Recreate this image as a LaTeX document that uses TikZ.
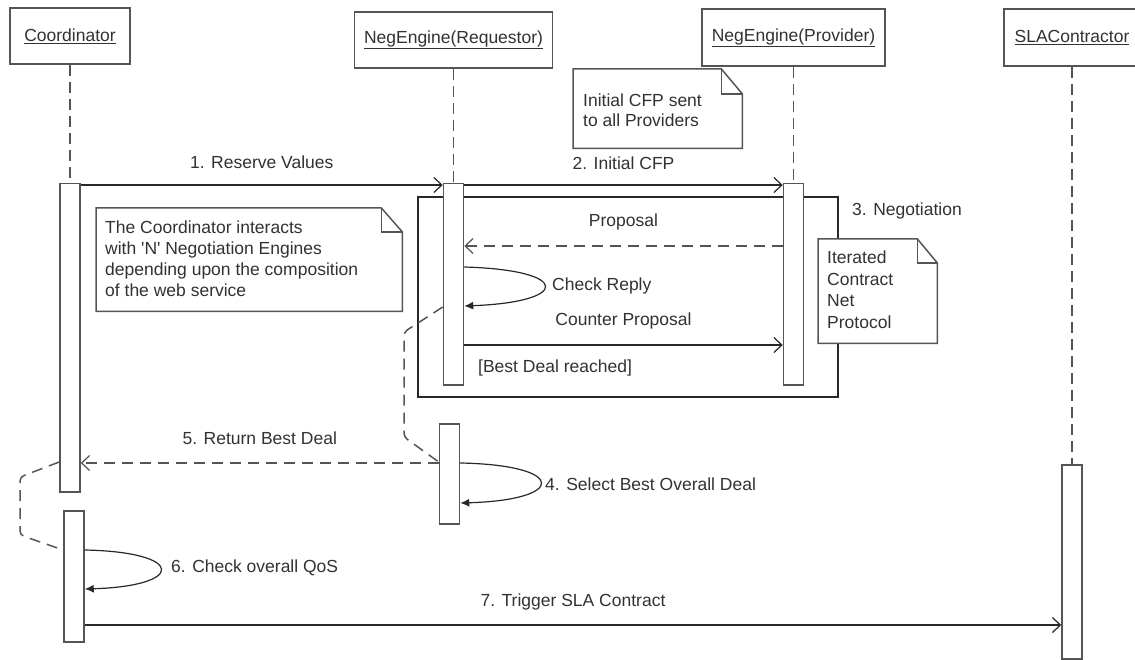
\documentclass[tikz,border=0pt]{standalone}
\usepackage{fontspec}
\setmainfont{Liberation Sans}
\usetikzlibrary{arrows.meta}
\definecolor{ln}{RGB}{85,85,85}
\definecolor{dk}{RGB}{40,40,40}
\definecolor{tx}{RGB}{50,50,50}
\begin{document}
\begin{tikzpicture}[x=1pt,y=-1pt,
  every node/.style={font=\fontsize{17.5}{21}\selectfont, text=tx},
  headbox/.style={draw=ln, line width=1.6pt, fill=white, minimum height=56pt, inner sep=0pt},
  actbox/.style={draw=ln, line width=1.5pt, fill=white, minimum width=20pt, inner sep=0pt, anchor=north},
  life/.style={draw=ln, line width=1.5pt, dash pattern=on 11pt off 6pt},
  msg/.style={draw=dk, line width=1.2pt, -{Straight Barb[length=8pt,width=15pt,line width=1.2pt]}},
  reply/.style={draw=ln, line width=1.5pt, dash pattern=on 11pt off 7pt, -{Straight Barb[length=8pt,width=15pt,line width=1.2pt]}},
  selfmsg/.style={draw=dk, line width=1.2pt, -{Latex[length=9pt,width=8pt]}},
  linkline/.style={draw=ln, line width=1.5pt, dash pattern=on 11pt off 7pt, rounded corners=4pt},
  notebg/.style={draw=none, inner sep=0pt, anchor=north west},
  noteline/.style={draw=ln, line width=1.5pt, line join=miter},
  notetext/.style={anchor=north west, inner sep=0pt, align=left},
  lbl/.style={inner sep=0pt},
  negframe/.style={draw=dk, line width=2.4pt, inner sep=0pt},
]
\useasboundingbox (0,0) rectangle (1135,660);
\clip (0,0) rectangle (1135,660);
\fill[white] (0,0) rectangle (1135,660);

% headers
\node[headbox, minimum width=120pt] (hC) at (70,36) {\underline{Coordinator}};
\node[headbox, minimum width=198pt] (hR) at (453.5,40) {\underline{NegEngine(Requestor)}};
\node[headbox, minimum width=183pt, minimum height=57pt] (hP) at (793.5,37.5) {\underline{NegEngine(Provider)}};
\node[headbox, minimum width=136pt, minimum height=57pt] (hS) at (1072,37.5) {\underline{SLAContractor}};

% combined fragment
\node[negframe, minimum width=420pt, minimum height=200pt] (neg) at (628,297) {};

% activations
\node[actbox, minimum height=308pt] (aC1) at (70,183) {};
\node[actbox, minimum height=131pt] (aC2) at (74,510) {};
\node[actbox, minimum height=201pt] (aR1) at (453.5,183) {};
\node[actbox, minimum height=100pt] (aR2) at (449.5,423) {};
\node[actbox, minimum height=201pt] (aP) at (793.5,183) {};
\node[actbox, minimum height=194pt] (aS) at (1072,464) {};

% lifelines
\draw[life] (hC.south) -- (aC1.north);
\draw[life] (hR.south) -- (aR1.north);
\draw[life] (hP.south) -- (aP.north);
\draw[life] (hS.south) -- (aS.north);

% messages
\draw[msg] ([yshift=-2pt]aC1.north east) -- node[lbl, midway, yshift=23pt] (m1) {1. Reserve Values} ([yshift=-2pt]aR1.north west);
\draw[msg] ([yshift=-2pt]aR1.north east) -- node[lbl, midway, yshift=22pt] (m2) {2. Initial CFP} ([yshift=-2pt]aP.north west);
\draw[reply] ([yshift=-63pt]aP.north west) -- node[lbl, midway, yshift=24pt] (mP) {Proposal} ([yshift=-63pt]aR1.north east);
\draw[selfmsg] ([yshift=-84pt]aR1.north east) .. controls +(107,3) and +(107,-4) .. ([yshift=-123pt]aR1.north east);
\node[lbl, anchor=west] (mCR) at (552,286) {Check Reply};
\draw[msg] ([yshift=-162pt]aR1.north east) -- node[lbl, midway, yshift=24pt] (mCP) {Counter Proposal} ([yshift=-162pt]aP.north west);
\node[lbl, anchor=west] (guard) at (478,368) {[Best Deal reached]};
\node[lbl, anchor=west] (negl) at (852,211) {3. Negotiation};

% link requestor
\coordinate (k1) at (404,332);
\coordinate (k2) at (404,437);
\draw[linkline] ([yshift=-124pt]aR1.north west) -- (k1) -- (k2) -- ([yshift=-39pt]aR2.north west);

\draw[reply] ([yshift=-40pt]aR2.north west) -- node[lbl, midway, yshift=25pt] (m5) {5. Return Best Deal} ([yshift=-280pt]aC1.north east);
\draw[selfmsg] ([yshift=-40pt]aR2.north east) .. controls +(107,2) and +(107,-3) .. ([yshift=-80pt]aR2.north east);
\node[lbl, anchor=west] (m4) at (545,484) {4. Select Best Overall Deal};

% link coordinator
\coordinate (k3) at (20,477);
\coordinate (k4) at (20,535);
\draw[linkline] ([yshift=-279pt]aC1.north west) -- (k3) -- (k4) -- ([yshift=-40pt]aC2.north west);

\draw[selfmsg] ([yshift=-40pt]aC2.north east) .. controls +(101,2) and +(101,-3) .. ([yshift=-79pt]aC2.north east);
\node[lbl, anchor=west] (m6) at (171,568) {6. Check overall QoS};
\draw[msg] ([yshift=-115pt]aC2.north east) -- node[lbl, midway, yshift=23pt] (m7) {7. Trigger SLA Contract} ([yshift=-161pt]aS.north west);

% notes
\node[notebg, minimum width=169pt, minimum height=79pt] (n1) at (573,69) {};
\draw[noteline, fill=white] (n1.south west) -- (n1.north west) -- ([xshift=-21pt]n1.north east) -- ([yshift=-25pt]n1.north east) -- (n1.south east) -- cycle;
\draw[noteline] ([xshift=-21pt]n1.north east) |- ([yshift=-25pt]n1.north east);
\node[notetext, font=\fontsize{17.5}{20}\selectfont] (t1) at (583,94) {Initial CFP sent\\to all Providers};

\node[notebg, minimum width=306pt, minimum height=103pt] (n2) at (96,208) {};
\draw[noteline, fill=white] (n2.south west) -- (n2.north west) -- ([xshift=-21pt]n2.north east) -- ([yshift=-24pt]n2.north east) -- (n2.south east) -- cycle;
\draw[noteline] ([xshift=-21pt]n2.north east) |- ([yshift=-24pt]n2.north east);
\node[notetext] (t2) at (105,221) {The Coordinator interacts\\with \textquotesingle N\textquotesingle{} Negotiation Engines\\depending upon the composition\\of the web service};

\node[notebg, minimum width=119pt, minimum height=104pt] (n3) at (818,239) {};
\draw[noteline, fill=white] (n3.south west) -- (n3.north west) -- ([xshift=-20pt]n3.north east) -- ([yshift=-24pt]n3.north east) -- (n3.south east) -- cycle;
\draw[noteline] ([xshift=-20pt]n3.north east) |- ([yshift=-24pt]n3.north east);
\node[notetext, font=\fontsize{17.5}{21.5}\selectfont] (t3) at (827,251) {Iterated\\Contract\\Net\\Protocol};
\end{tikzpicture}
\end{document}
